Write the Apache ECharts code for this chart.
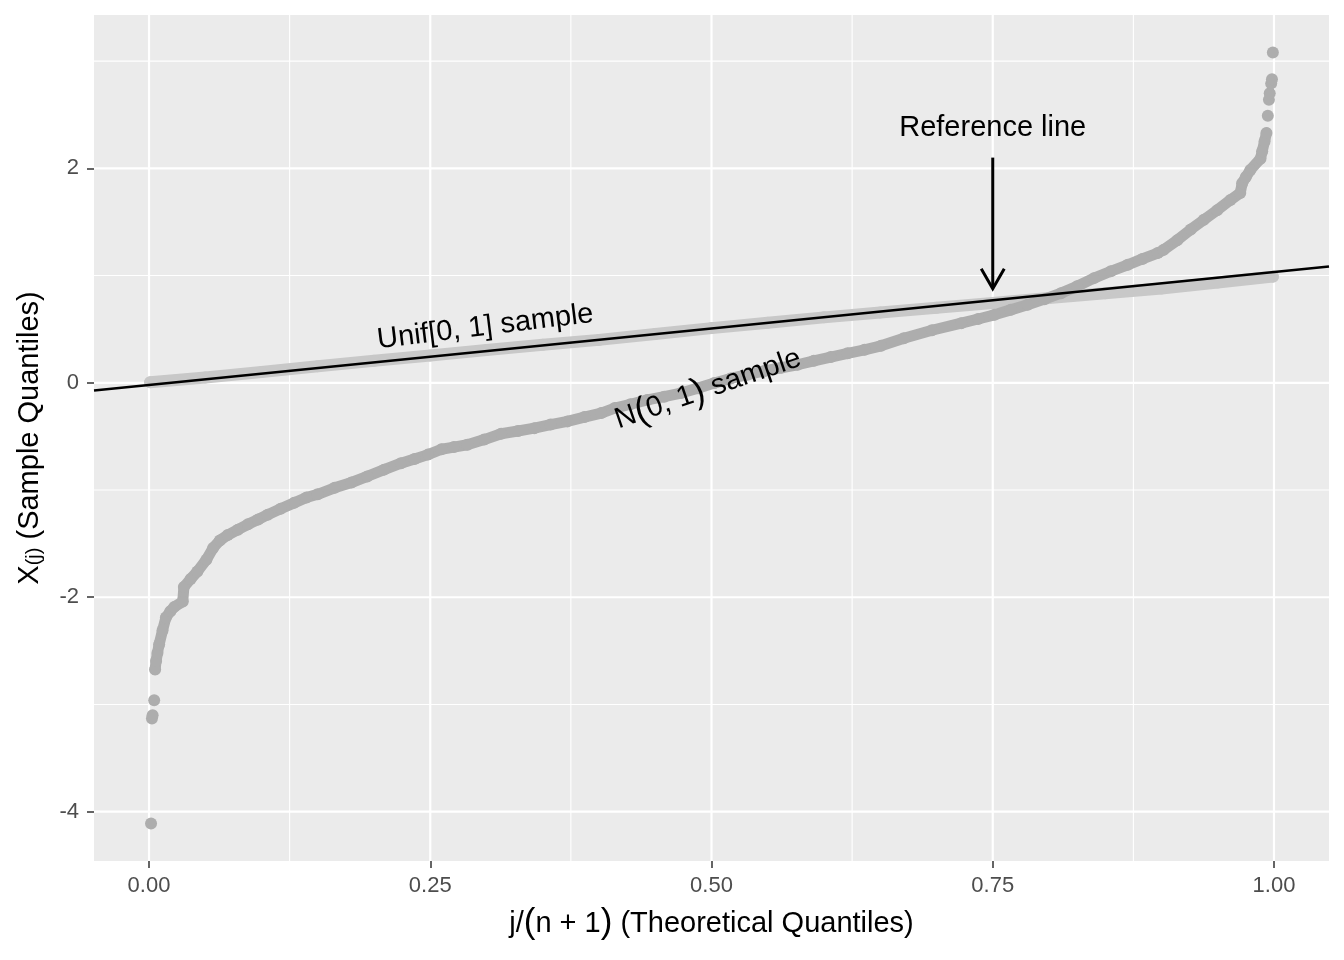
<!DOCTYPE html>
<html>
<head>
<meta charset="utf-8">
<script src="https://cdn.jsdelivr.net/npm/echarts@6/dist/echarts.min.js"></script>
<style>html,body{margin:0;padding:0;background:#ffffff}#c{width:1344px;height:960px}</style>
</head>
<body>
<div id="c"></div>
<script>
const FONT = '"Liberation Sans", Arial, Helvetica, sans-serif';

// N(0,1) sample: sorted values vs j/(n+1)
const normX = [0.0018,0.0026,0.0032,0.0046,0.0054,0.0063,0.0075,0.0090,0.0120,0.0150,0.0190,0.0225,0.0300,0.0310,0.0370,0.0430,0.0510,0.0570,0.0630,0.0700,0.0790,0.0880,0.0970,0.1055,0.1170,0.1290,0.1400,0.1500,0.1650,0.1800,0.1940,0.2090,0.2240,0.2360,0.2480,0.2600,0.2710,0.2830,0.2980,0.3130,0.3280,0.3425,0.3570,0.3720,0.3870,0.4020,0.4140,0.4280,0.4430,0.4580,0.4730,0.4880,0.5025,0.5170,0.5320,0.5470,0.5620,0.5765,0.5910,0.6060,0.6210,0.6360,0.6507,0.6710,0.6960,0.7220,0.7370,0.7515,0.7660,0.7810,0.7960,0.8107,0.8250,0.8400,0.8550,0.8700,0.8830,0.8966,0.9020,0.9140,0.9260,0.9376,0.9495,0.9613,0.9700,0.9717,0.9750,0.9790,0.9880,0.9895,0.9916,0.9933,0.9945,0.9955,0.9962,0.9975,0.9982,0.9990];
const normY = [-4.11,-3.13,-3.10,-2.96,-2.675,-2.595,-2.52,-2.44,-2.31,-2.19,-2.13,-2.09,-2.04,-1.905,-1.83,-1.76,-1.65,-1.54,-1.47,-1.42,-1.37,-1.32,-1.275,-1.23,-1.175,-1.12,-1.07,-1.04,-0.98,-0.93,-0.873,-0.81,-0.75,-0.71,-0.67,-0.62,-0.60,-0.578,-0.53,-0.475,-0.45,-0.423,-0.39,-0.36,-0.32,-0.283,-0.236,-0.20,-0.16,-0.13,-0.096,-0.05,-0.003,0.04,0.075,0.11,0.14,0.168,0.205,0.24,0.275,0.307,0.345,0.416,0.49,0.556,0.595,0.634,0.68,0.727,0.78,0.836,0.90,0.976,1.04,1.10,1.155,1.21,1.24,1.33,1.43,1.52,1.61,1.705,1.77,1.86,1.92,1.985,2.09,2.16,2.25,2.33,2.49,2.64,2.70,2.79,2.83,3.08];
// indices of the densely packed run of the normal sample
const normDenseFrom = 4, normDenseTo = 92;

// Unif[0,1] sample
const unifX = [0.001,0.05,0.10,0.15,0.20,0.25,0.30,0.35,0.40,0.45,0.50,0.55,0.60,0.65,0.70,0.75,0.80,0.85,0.90,0.95,0.999];
const unifY = [0.005,0.05,0.10,0.155,0.205,0.255,0.305,0.355,0.40,0.455,0.51,0.56,0.61,0.655,0.70,0.745,0.79,0.835,0.88,0.935,0.99];

// reference line y = a + b x
const refIntercept = -0.02;
const refSlope = 1.053;

const xRange = [-0.0489, 1.0489];
const yRange = [-4.46, 3.43];
const xMajor = [0, 0.25, 0.5, 0.75, 1];
const xMinor = [0.125, 0.375, 0.625, 0.875];
const yMajor = [-4, -2, 0, 2];
const yMinor = [-3, -1, 1, 3];

// arrow (x, from y, to y)
const arrowX = 0.75, arrowFromY = 2.10, arrowToY = 0.878;

// annotations
const annoText = ['Reference line', '{r|Unif[0, 1] sample}', '{r|N}{p|(}{r|0, 1}{p|)}{r| sample}'];
const annoX = [0.75, 0.299, 0.497];
const annoY = [2.38, 0.52, -0.06];
const annoAngle = [0, 7, 19];

const chart = echarts.init(document.getElementById('c'), null, {renderer: 'canvas'});

const gridData = []
  .concat(xMinor.map(v => [v, 1.1, 0]))
  .concat(yMinor.map(v => [v, 1.1, 1]))
  .concat(xMajor.map(v => [v, 2.2, 0]))
  .concat(yMajor.map(v => [v, 2.2, 1]));

const normPts = normX.map((x, i) => [x, normY[i]]);
const unifPts = unifX.map((x, i) => [x, unifY[i]]);
const refPts = xRange.map(x => [x, refIntercept + refSlope * x]);

const option = {
  animation: false,
  grid: {left: 94, right: 15, top: 15, bottom: 99, show: true, backgroundColor: '#EBEBEB', borderWidth: 0},
  xAxis: {
    type: 'value', min: xRange[0], max: xRange[1],
    axisLine: {show: false, onZero: false},
    axisTick: {show: true, customValues: xMajor, length: 7, lineStyle: {color: '#333333', width: 1.5}},
    axisLabel: {customValues: xMajor, formatter: v => v.toFixed(2), color: '#4D4D4D', fontSize: 22, fontFamily: FONT, margin: 14},
    splitLine: {show: false},
    name: '{a|j/}{p|(}{a|n + 1}{p|)}{a| (Theoretical Quantiles)}',
    nameLocation: 'middle', nameGap: 45,
    nameTextStyle: {
      fontSize: 29, fontFamily: FONT, color: '#000',
      rich: {
        a: {fontSize: 29, fontFamily: FONT, color: '#000'},
        p: {fontSize: 35, fontFamily: FONT, color: '#000'}
      }
    }
  },
  yAxis: {
    type: 'value', min: yRange[0], max: yRange[1],
    axisLine: {show: false, onZero: false},
    axisTick: {show: true, customValues: yMajor, length: 7, lineStyle: {color: '#333333', width: 1.5}},
    axisLabel: {customValues: yMajor, formatter: v => String(v), color: '#4D4D4D', fontSize: 22, fontFamily: FONT, margin: 15},
    splitLine: {show: false},
    name: '{x|X}{s|(j)}{t| (Sample Quantiles)}',
    nameLocation: 'middle', nameGap: 50,
    nameTextStyle: {
      fontSize: 29, fontFamily: FONT, color: '#000',
      rich: {
        x: {fontSize: 29, fontFamily: FONT, color: '#000', lineHeight: 29},
        s: {fontSize: 20, fontFamily: FONT, color: '#000', lineHeight: 16, verticalAlign: 'bottom'},
        t: {fontSize: 29, fontFamily: FONT, color: '#000', lineHeight: 29}
      }
    }
  },
  series: [
    {
      type: 'custom', z: 1, silent: true, clip: false,
      data: gridData,
      renderItem: function (params, api) {
        const v = api.value(0), w = api.value(1), dir = api.value(2);
        let p1, p2;
        if (dir === 0) { p1 = api.coord([v, yRange[0]]); p2 = api.coord([v, yRange[1]]); }
        else { p1 = api.coord([xRange[0], v]); p2 = api.coord([xRange[1], v]); }
        return {type: 'line', shape: {x1: p1[0], y1: p1[1], x2: p2[0], y2: p2[1]}, style: {stroke: '#FFFFFF', lineWidth: w}};
      }
    },
    {
      type: 'line', z: 2, data: unifPts, showSymbol: true, symbol: 'circle', symbolSize: 12,
      itemStyle: {color: '#C8C8C8'},
      lineStyle: {color: '#C8C8C8', width: 12, cap: 'round', join: 'round'},
      silent: true
    },
    {
      type: 'line', z: 3, data: normPts.slice(normDenseFrom, normDenseTo), showSymbol: false,
      lineStyle: {color: '#ADADAD', width: 11, cap: 'round', join: 'round'},
      silent: true
    },
    {
      type: 'scatter', z: 3, data: normPts, symbol: 'circle', symbolSize: 12,
      itemStyle: {color: '#ADADAD', opacity: 1}, silent: true
    },
    {
      type: 'line', z: 4, data: refPts, showSymbol: false,
      lineStyle: {color: '#000000', width: 2.4}, silent: true
    },
    {
      type: 'custom', z: 5, silent: true, clip: false,
      data: [[arrowX, arrowFromY, arrowToY]],
      renderItem: function (params, api) {
        const top = api.coord([api.value(0), api.value(1)]);
        const tip = api.coord([api.value(0), api.value(2)]);
        const L = 23, a = Math.PI / 6;
        const dx = L * Math.sin(a), dy = L * Math.cos(a);
        return {type: 'group', children: [
          {type: 'line', shape: {x1: top[0], y1: top[1], x2: tip[0], y2: tip[1] - 1}, style: {stroke: '#000', lineWidth: 3}},
          {type: 'polyline', shape: {points: [[tip[0] - dx, tip[1] - dy], [tip[0], tip[1]], [tip[0] + dx, tip[1] - dy]]},
           style: {stroke: '#000', lineWidth: 3, fill: null, lineJoin: 'miter'}}
        ]};
      }
    },
    {
      type: 'custom', z: 6, silent: true, clip: false,
      data: annoX.map((x, i) => [x, annoY[i], i]),
      renderItem: function (params, api) {
        const i = api.value(2);
        const p = api.coord([api.value(0), api.value(1)]);
        return {
          type: 'text', x: p[0], y: p[1], rotation: annoAngle[i] * Math.PI / 180,
          style: {
            text: annoText[i], fontSize: 29, fontFamily: FONT, fill: '#000',
            align: 'center', verticalAlign: 'middle',
            rich: {
              r: {fontSize: 29, fontFamily: FONT, fill: '#000'},
              p: {fontSize: 36, fontFamily: FONT, fill: '#000'}
            }
          }
        };
      }
    }
  ]
};
chart.setOption(option);
</script>
</body>
</html>
